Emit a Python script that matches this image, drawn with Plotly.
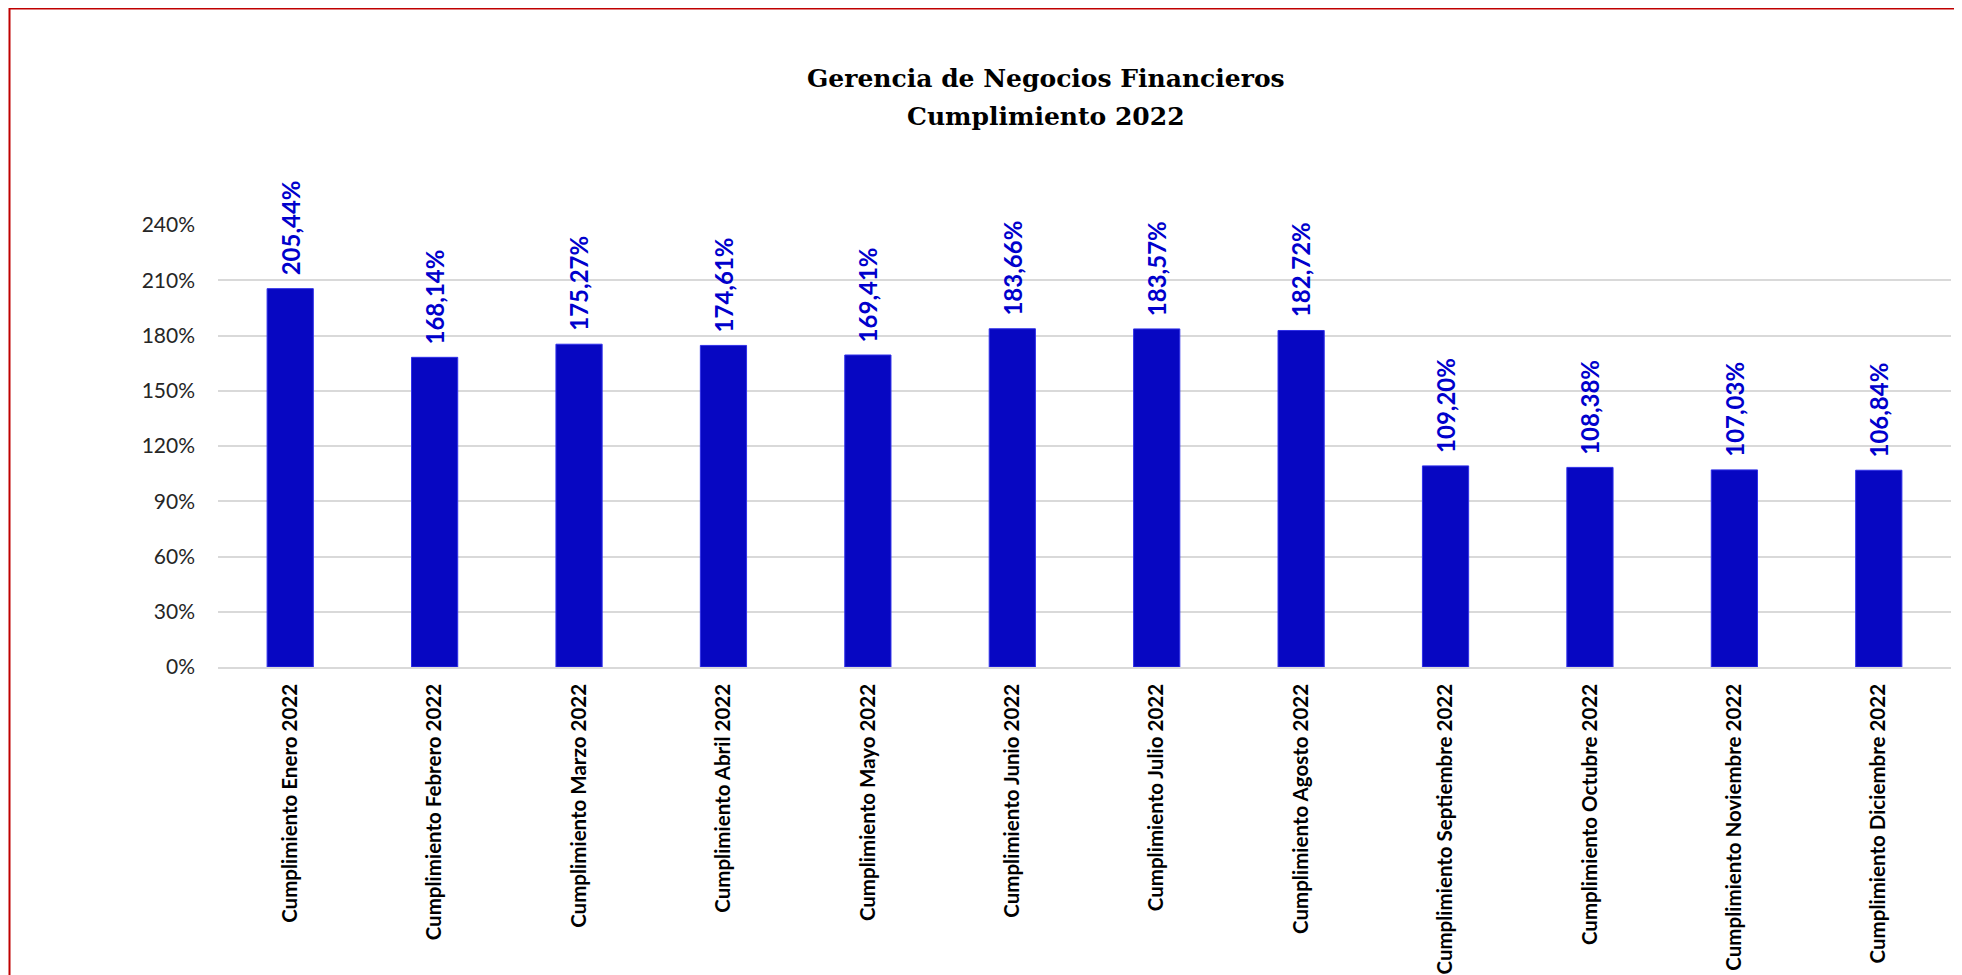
import plotly.graph_objects as go

categories = [
    "Cumplimiento Enero 2022", "Cumplimiento Febrero 2022", "Cumplimiento Marzo 2022",
    "Cumplimiento Abril 2022", "Cumplimiento Mayo 2022", "Cumplimiento Junio 2022",
    "Cumplimiento Julio 2022", "Cumplimiento Agosto 2022", "Cumplimiento Septiembre 2022",
    "Cumplimiento Octubre 2022", "Cumplimiento Noviembre 2022", "Cumplimiento Diciembre 2022",
]
values = [205.44, 168.14, 175.27, 174.61, 169.41, 183.66, 183.57, 182.72, 109.20, 108.38, 107.03, 106.84]
y_ticks = [0, 30, 60, 90, 120, 150, 180, 210, 240]
y_tick_labels = [f"{v}%" for v in y_ticks]
title_lines = ["Gerencia de Negocios Financieros", "Cumplimiento 2022"]

# page has an 8px body margin, so the figure is laid out 8px smaller
OFF = 8
W, H = 1962 - OFF, 975 - OFF
L, R = 218 - OFF, 11
T = 225 - OFF
B = H - (667 - OFF)
pw = W - L - R
ph = H - T - B

fig = go.Figure()
fig.add_trace(go.Bar(
    x=categories, y=values,
    marker=dict(color="#0707C2", line=dict(color="#3030E8", width=1)),
    hoverinfo="x+y",
))

for c, v in zip(categories, values):
    fig.add_annotation(
        x=c, y=v, xref="x", yref="y",
        text=f"{v:.2f}%".replace(".", ","),
        textangle=-90, showarrow=False,
        xanchor="center", yanchor="bottom", yshift=11,
        font=dict(family="Lato", size=24, color="#0000CC", weight="bold"),
    )

# title lines
title_centers = [78 - OFF, 117 - OFF]
for line, py in zip(title_lines, title_centers):
    fig.add_annotation(
        x=(1046 - OFF - L) / pw, y=(H - B - py) / ph, xref="paper", yref="paper",
        text=f"<b>{line}</b>", showarrow=False, xanchor="center", yanchor="middle",
        font=dict(family="DejaVu Serif", size=25, color="black"),
    )

fig.add_shape(
    type="rect", xref="paper", yref="paper",
    x0=(9.5 - OFF - L) / pw, x1=(W + 20 - L) / pw,
    y0=(H - B - (H + 20)) / ph, y1=(H - B - (8.5 - OFF)) / ph,
    line=dict(color="#C00000", width=2), fillcolor="rgba(0,0,0,0)", layer="above",
)

fig.update_layout(
    width=W, height=H,
    margin=dict(l=L, r=R, t=T, b=B, autoexpand=False),
    paper_bgcolor="white", plot_bgcolor="white",
    bargap=0.68,
    showlegend=False,
    font=dict(family="Lato", color="black"),
)
fig.update_xaxes(
    tickangle=-90, tickfont=dict(family="Lato", size=20.5, color="black", weight="bold"),
    showline=True, linecolor="#D9D9D9", linewidth=1.5,
    ticks="", ticklabelstandoff=7, showgrid=False,
)
fig.update_yaxes(
    range=[0, 240], tickvals=y_ticks, ticktext=y_tick_labels,
    tickfont=dict(family="Lato", size=21, color="#262626"),
    showgrid=True, gridcolor="#D9D9D9", gridwidth=1.5,
    zeroline=False, showline=False, ticks="", ticklabelstandoff=22,
)

fig.write_html("out.html")
